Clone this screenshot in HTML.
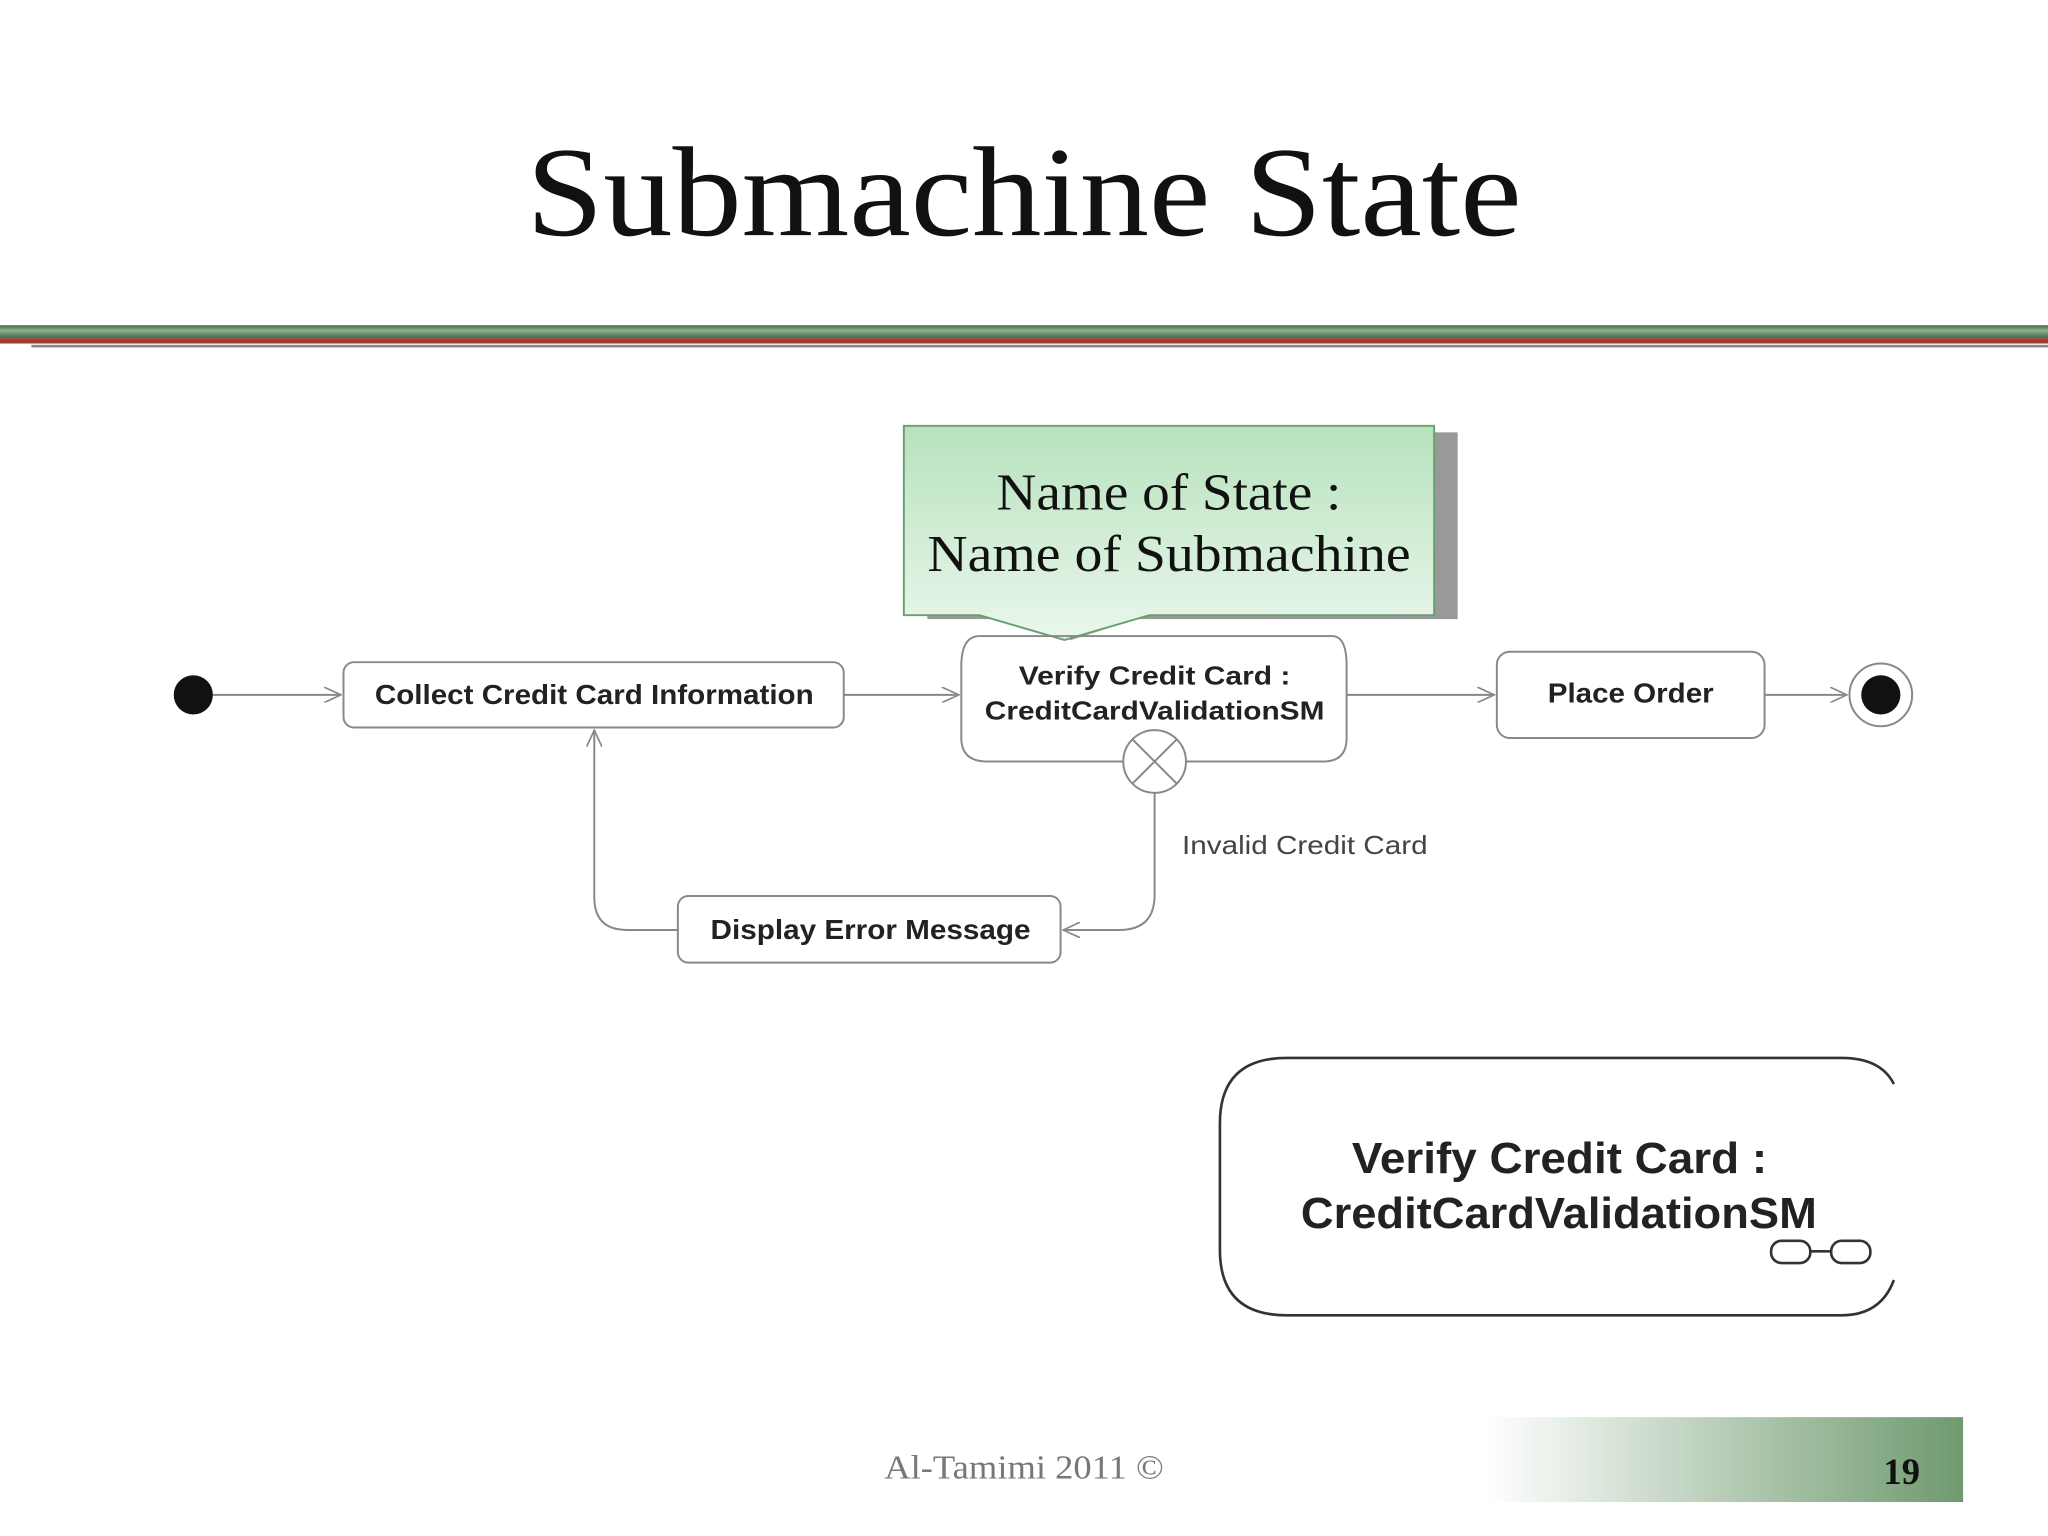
<!DOCTYPE html>
<html><head><meta charset="utf-8"><style>
html,body{margin:0;padding:0;background:#fff;}
svg{display:block;}
.d{font-family:"Liberation Sans",sans-serif;font-weight:bold;fill:#222;}
</style></head><body>
<svg width="2048" height="1536" viewBox="0 0 1568 1176" xmlns="http://www.w3.org/2000/svg">
<defs>
<linearGradient id="cg" x1="0" y1="0" x2="0" y2="1"><stop offset="0" stop-color="#b7e2bd"/><stop offset="1" stop-color="#eaf7ec"/></linearGradient>
<linearGradient id="fg" x1="0" y1="0" x2="1" y2="0"><stop offset="0" stop-color="#fff"/><stop offset="1" stop-color="#6f9a6f"/></linearGradient>
<linearGradient id="hg" x1="0" y1="0" x2="0" y2="1"><stop offset="0" stop-color="#3f6a45"/><stop offset="0.4" stop-color="#8fb08f"/><stop offset="1" stop-color="#3f6a45"/></linearGradient>
<marker id="ar" markerWidth="14" markerHeight="12" refX="13" refY="6" orient="auto" markerUnits="userSpaceOnUse"><path d="M0,0 L13,6 L0,12" fill="none" stroke="#888" stroke-width="1.3"/></marker>
</defs>
<rect width="1568" height="1176" fill="#fff"/>
<text x="403" y="180" textLength="762" lengthAdjust="spacingAndGlyphs" font-family="Liberation Serif,serif" font-size="98" fill="#111">Submachine State</text>
<rect x="0" y="249" width="1568" height="10" fill="url(#hg)"/>
<rect x="0" y="259" width="1568" height="4" fill="#a33a32"/>
<rect x="24" y="264" width="1544" height="2" fill="#888"/>

<rect x="710" y="331" width="406" height="143" fill="#999"/>
<polygon points="760,474 870,474 820,490" fill="#999"/>
<path d="M692,326 H1098 V471 H880 L815,490 L750,471 H692 Z" fill="url(#cg)" stroke="#6aa070" stroke-width="1.5"/>
<text x="763" y="390" textLength="264" lengthAdjust="spacingAndGlyphs" font-family="Liberation Serif,serif" font-size="40" fill="#111">Name of State :</text>
<text x="710" y="437" textLength="370" lengthAdjust="spacingAndGlyphs" font-family="Liberation Serif,serif" font-size="40" fill="#111">Name of Submachine</text>

<g stroke="#888" stroke-width="1.5" fill="none">
<line x1="163" y1="532" x2="261" y2="532" marker-end="url(#ar)"/>
<line x1="646" y1="532" x2="734" y2="532" marker-end="url(#ar)"/>
<line x1="1031" y1="532" x2="1144" y2="532" marker-end="url(#ar)"/>
<line x1="1351" y1="532" x2="1414" y2="532" marker-end="url(#ar)"/>
<path d="M884,607 V685 Q884,712 857,712 H814" marker-end="url(#ar)"/>
<path d="M519,712 H480 Q455,712 455,687 V559" marker-end="url(#ar)"/>
<rect x="263" y="507" width="383" height="50" rx="8"/>
<path d="M750,487 H1020 Q1031,487 1031,510 V565 Q1031,583 1013,583 H908 M860,583 H756 Q736,583 736,565 V510 Q736,487 750,487"/>
<circle cx="884" cy="583" r="24"/>
<line x1="867" y1="566" x2="901" y2="600"/><line x1="901" y1="566" x2="867" y2="600"/>
<rect x="1146" y="499" width="205" height="66" rx="10"/>
<rect x="519" y="686" width="293" height="51" rx="8"/>
<circle cx="1440" cy="532" r="24"/>
</g>
<circle cx="148" cy="532" r="15" fill="#111"/>
<circle cx="1440" cy="532" r="15" fill="#111"/>
<text x="287" y="539" textLength="336" lengthAdjust="spacingAndGlyphs" class="d" font-size="21">Collect Credit Card Information</text>
<text x="780" y="524" textLength="208" lengthAdjust="spacingAndGlyphs" class="d" font-size="20">Verify Credit Card :</text>
<text x="754" y="551" textLength="260" lengthAdjust="spacingAndGlyphs" class="d" font-size="20">CreditCardValidationSM</text>
<text x="1185" y="538" textLength="127" lengthAdjust="spacingAndGlyphs" class="d" font-size="21">Place Order</text>
<text x="544" y="719" textLength="245" lengthAdjust="spacingAndGlyphs" class="d" font-size="21">Display Error Message</text>
<text x="905" y="654" textLength="188" lengthAdjust="spacingAndGlyphs" font-family="Liberation Sans,sans-serif" font-size="20" fill="#444">Invalid Credit Card</text>

<path d="M1450,830 Q1440,810 1410,810 H985 Q934,810 934,860 V957 Q934,1007 985,1007 H1410 Q1440,1007 1450,980" fill="none" stroke="#333" stroke-width="2"/>
<text x="1035" y="898" textLength="318" lengthAdjust="spacingAndGlyphs" class="d" font-size="33">Verify Credit Card :</text>
<text x="996" y="940" textLength="395" lengthAdjust="spacingAndGlyphs" class="d" font-size="33">CreditCardValidationSM</text>
<g fill="none" stroke="#333" stroke-width="2">
<rect x="1356" y="950" width="30" height="17" rx="8"/>
<rect x="1402" y="950" width="30" height="17" rx="8"/>
<line x1="1386" y1="958" x2="1402" y2="958"/>
</g>

<text x="677" y="1132" textLength="214" lengthAdjust="spacingAndGlyphs" font-family="Liberation Serif,serif" font-size="26" fill="#777">Al-Tamimi 2011 ©</text>
<rect x="1137" y="1085" width="366" height="65" fill="url(#fg)"/>
<text x="1456" y="1136" text-anchor="middle" font-family="Liberation Serif,serif" font-weight="bold" font-size="28" fill="#111">19</text>
</svg>
</body></html>
